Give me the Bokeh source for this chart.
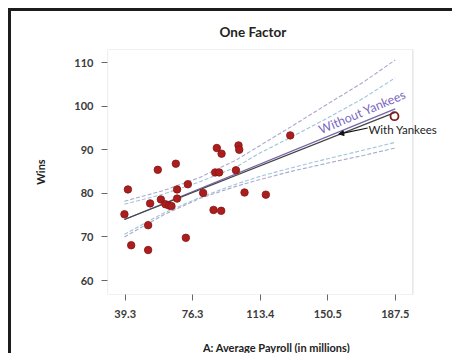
from bokeh.plotting import figure
from bokeh.models import Range1d, FixedTicker, Label, Arrow, NormalHead, Title, BoxAnnotation
from bokeh.embed import file_html
from bokeh.resources import INLINE

# ---- data ----
payroll = [38.9, 40.8, 42.6, 51.9, 51.9, 53.0, 57.2, 58.9, 61.4, 63.4, 64.7, 67.1, 67.8, 67.8,
           72.6, 73.7, 82.1, 87.8, 88.7, 90.9, 89.6, 92.2, 92.0, 100.1, 101.5, 101.9, 104.8,
           116.5, 129.9]
wins = [75.2, 80.9, 68.1, 72.7, 67.0, 77.7, 85.4, 78.6, 77.5, 77.2, 77.1, 86.8, 80.9, 78.8,
        69.8, 82.1, 80.1, 76.2, 84.8, 84.8, 90.4, 89.1, 76.0, 85.3, 91.0, 90.0, 80.2,
        79.7, 93.3]
yankees_payroll = [187.1]
yankees_wins = [97.7]

fit_x = [38.9, 187.5]
fit_with = [74.0, 98.6]
fit_without = [74.0, 99.4]

band_x = [38.9, 60, 80, 100, 113.4, 130, 150, 170, 187.5]
band_without_upper = [78.2, 80.6, 83.6, 87.6, 91.0, 95.2, 100.4, 105.5, 110.6]
band_without_lower = [70.0, 75.0, 78.8, 81.6, 83.2, 85.0, 86.9, 88.7, 90.4]
band_with_upper = [77.5, 79.8, 82.6, 86.0, 89.3, 92.8, 97.2, 101.8, 106.5]
band_with_lower = [70.6, 75.4, 79.0, 82.1, 83.9, 85.8, 87.9, 89.9, 91.7]

x_ticks = [39.3, 76.3, 113.4, 150.5, 187.5]
x_tick_labels = ["39.3", "76.3", "113.4", "150.5", "187.5"]
y_ticks = [60, 70, 80, 90, 100, 110]

# plotting box (data limits of the framed panel)
X0, X1 = 29.6, 197.2
Y0, Y1 = 56.8, 113.0

FONT = "Lato"

p = figure(width=444, height=345, output_backend="svg", toolbar_location=None,
           x_range=Range1d(X0, 215.1), y_range=Range1d(Y0, Y1),
           min_border_left=96, min_border_right=10, min_border_top=38, min_border_bottom=57)
p.styles = {"margin-left": "8px", "margin-top": "8px",
            "border-top": "3px solid #1c1c1c", "border-left": "3px solid #1c1c1c"}

p.title = Title(text="One Factor", align="left", offset=(252 - 11 - 96 - 33), text_font=FONT,
                text_font_size="13.5px", text_font_style="bold", text_color="#222222", standoff=19)

p.grid.visible = False
p.outline_line_color = None
p.background_fill_color = "white"
p.border_fill_color = "white"

p.add_layout(BoxAnnotation(left=X0, right=X1, bottom=Y0, top=Y1, fill_color=None,
                           line_color="#9a9a9a", line_width=1.2))

for ax in (p.xaxis[0], p.yaxis[0]):
    ax.axis_line_color = None
    ax.major_tick_line_color = "#666666"
    ax.major_tick_in = 0
    ax.major_tick_out = 6
    ax.minor_tick_line_color = None
    ax.major_label_text_font = FONT
    ax.major_label_text_font_size = "11px"
    ax.major_label_text_font_style = "bold"
    ax.major_label_text_color = "#3a3a3a"
    ax.axis_label_text_font = FONT
    ax.axis_label_text_font_size = "11px"
    ax.axis_label_text_font_style = "bold"
    ax.axis_label_text_color = "#222222"

p.xaxis.ticker = FixedTicker(ticks=x_ticks)
p.xaxis.major_label_overrides = {t: l for t, l in zip(x_ticks, x_tick_labels)}
p.xaxis.major_label_standoff = 9
p.xaxis.axis_label = "A: Average Payroll (in millions)"
p.xaxis.axis_label_standoff = 20

p.yaxis.ticker = FixedTicker(ticks=y_ticks)
p.yaxis.major_label_standoff = 8
p.yaxis.axis_label = "Wins"
p.yaxis.axis_label_standoff = 24

# confidence bands
p.line(band_x, band_without_upper, line_color="#a9a9cf", line_width=1.1, line_dash="4 2")
p.line(band_x, band_without_lower, line_color="#a9a9cf", line_width=1.1, line_dash="4 2")
p.line(band_x, band_with_upper, line_color="#9fc4da", line_width=1.1, line_dash="4 2")
p.line(band_x, band_with_lower, line_color="#9fc4da", line_width=1.1, line_dash="4 2")

# fits
p.line(fit_x, fit_without, line_color="#7464a8", line_width=1.3)
p.line(fit_x, fit_with, line_color="#444444", line_width=1.3)

# points
p.scatter(payroll, wins, size=7.5, fill_color="#ab1e1e", line_color="#8a1414", line_width=0.8)
p.scatter(yankees_payroll, yankees_wins, size=8, fill_color=None, line_color="#7a2020", line_width=1.8)

# annotations
p.add_layout(Label(x=169.4, y=98.7, text="Without Yankees", angle=0.40, text_align="center",
                   text_baseline="middle", text_font=FONT, text_font_size="12.5px",
                   text_color="#7b68c0"))
p.add_layout(Label(x=172.8, y=94.75, text="With Yankees", text_align="left",
                   text_baseline="middle", text_font=FONT, text_font_size="11.5px",
                   text_color="#222222"))
p.add_layout(Arrow(x_start=172.4, y_start=95.0, x_end=156.5, y_end=93.6,
                   line_color="#111111", line_width=1.2,
                   end=NormalHead(size=5, fill_color="#111111", line_color="#111111")))

open("out.html", "w").write(file_html(p, INLINE))
